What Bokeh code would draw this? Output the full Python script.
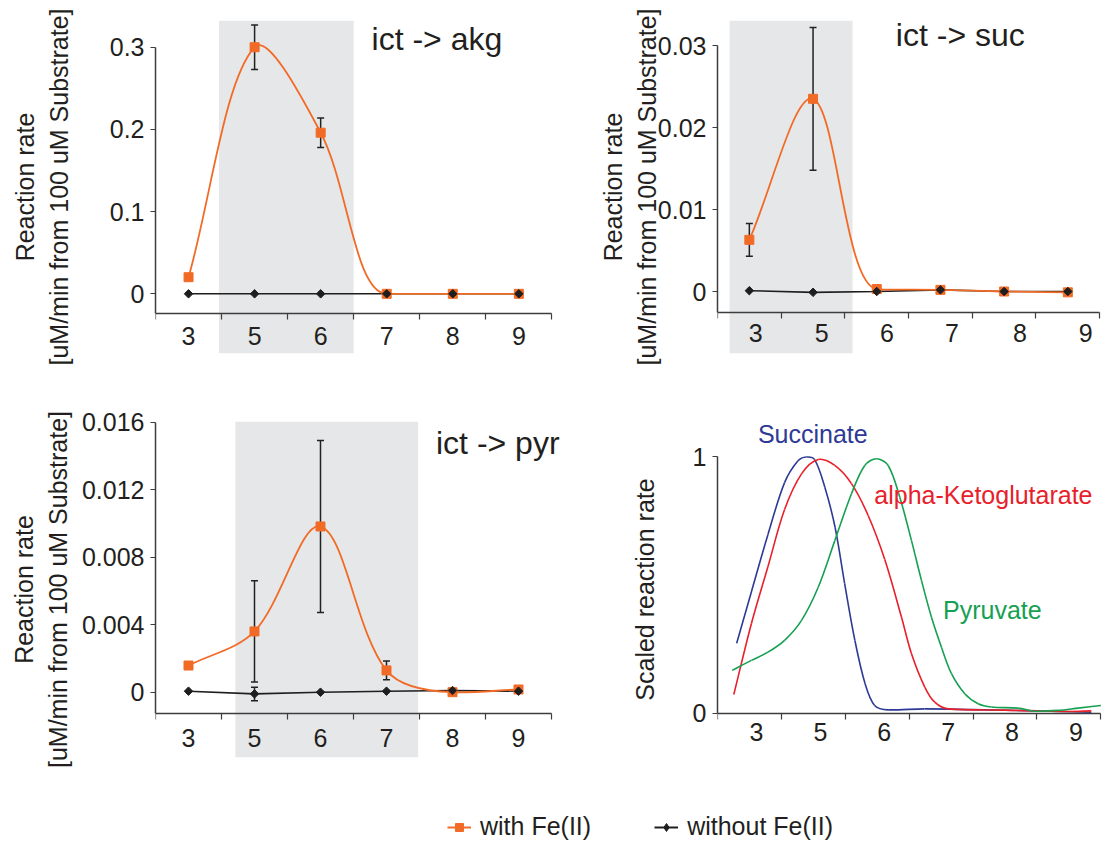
import math
from bokeh.plotting import figure
from bokeh.models import (ColumnDataSource, FixedTicker, BoxAnnotation, Whisker, TeeHead,
                          Legend, LegendItem, Range1d, Label)
from bokeh.layouts import column, row
from bokeh.embed import file_html
from bokeh.resources import INLINE

# ---------------- data ----------------
ph_labels = ["3", "5", "6", "7", "8", "9"]
ph_pos = [0, 1, 2, 3, 4, 5]

akg_with_fe = [0.0202, 0.300, 0.196, 0.0, 0.0, 0.0]
akg_with_fe_err = [0.0, 0.027, 0.018, 0.0, 0.0, 0.0]
akg_without_fe = [0.0, 0.0, 0.0, 0.0, 0.0, 0.0]
akg_shade = [0.46, 2.5]
akg_yticks = [0, 0.1, 0.2, 0.3]
akg_ylabels = ["0", "0.1", "0.2", "0.3"]

suc_with_fe = [0.0063, 0.0235, 0.0003, 0.0002, 0.0, -0.0001]
suc_with_fe_err = [0.002, 0.0087, 0.0, 0.0, 0.0, 0.0]
suc_without_fe = [0.0001, -0.0001, 0.0, 0.0002, 0.0, 0.0]
suc_shade = [-0.31, 1.62]
suc_yticks = [0, 0.01, 0.02, 0.03]
suc_ylabels = ["0", "0.01", "0.02", "0.03"]

pyr_with_fe = [0.00158, 0.0036, 0.00982, 0.00129, 0.0, 0.00016]
pyr_with_fe_err = [0.0002, 0.003, 0.0051, 0.00056, 0.0, 0.0]
pyr_without_fe = [0.00006, -0.0001, 0.0, 0.00006, 0.0001, 0.00006]
pyr_without_fe_err = [0.0, 0.0004, 0.0, 0.0, 0.0, 0.0]
pyr_shade = [0.71, 3.48]
pyr_yticks = [0, 0.004, 0.008, 0.012, 0.016]
pyr_ylabels = ["0", "0.004", "0.008", "0.012", "0.016"]

# scaled reaction-rate profiles (position along the pH axis, scaled rate)
succinate_x = [-0.20, 0.03, 0.29, 0.55, 0.76, 0.89, 1.02, 1.18, 1.34, 1.49, 1.65, 1.81, 1.96,
               2.17, 2.74, 3.5, 4.5, 5.35]
succinate_y = [0.274, 0.474, 0.698, 0.90, 0.985, 1.0, 0.99, 0.882, 0.726, 0.506, 0.285, 0.116,
               0.031, 0.014, 0.018, 0.015, 0.010, 0.005]
akg_scaled_x = [-0.245, 0.03, 0.29, 0.55, 0.815, 1.076, 1.336, 1.597, 1.858, 2.118, 2.38,
                2.536, 2.744, 2.9, 3.11, 4.0, 5.0, 5.35]
akg_scaled_y = [0.074, 0.35, 0.573, 0.795, 0.934, 0.99, 0.967, 0.896, 0.772, 0.60, 0.375,
                0.233, 0.103, 0.044, 0.018, 0.013, 0.008, 0.010]
pyruvate_x = [-0.27, 0.03, 0.29, 0.55, 0.815, 1.076, 1.336, 1.597, 1.805, 1.988, 2.171, 2.353,
              2.536, 2.692, 2.849, 3.005, 3.162, 3.37, 3.58, 3.788, 4.206, 4.466, 4.83, 5.145, 5.5]
pyruvate_y = [0.168, 0.207, 0.239, 0.285, 0.363, 0.492, 0.674, 0.857, 0.967, 0.993, 0.967, 0.843,
              0.674, 0.519, 0.375, 0.258, 0.155, 0.077, 0.038, 0.025, 0.021, 0.009, 0.012, 0.021,
              0.031]
scaled_yticks = [0, 1]
scaled_ylabels = ["0", "1"]

# ---------------- style ----------------
FONT = "Liberation Sans"
ORANGE = "#f26b26"
BLACK = "#1e1e1e"
AXIS = "#3d3d3d"
SHADE = "#e6e7e8"
TXT = "#231f20"
BLUE = "#2e3a94"
RED = "#e8202a"
GREEN = "#16a052"
FS = "25px"

akg_shift = [0, 0, 0, 0, 0, 0]
suc_shift = [0.10, 0.135, 0.16, 0.18, 0.25, 0.28]
pyr_shift = [0, 0, 0, 0, 0, 0]
scaled_shift = [0.11] * 6


def panel(width, height, borders, xr, yr):
    l, r, t, b = borders
    p = figure(width=width, height=height, x_range=Range1d(*xr), y_range=Range1d(*yr),
               min_border_left=l, min_border_right=r, min_border_top=t, min_border_bottom=b,
               output_backend="svg", toolbar_location=None)
    p.xgrid.visible = False
    p.ygrid.visible = False
    p.outline_line_color = None
    p.background_fill_color = "white"
    p.border_fill_color = "white"
    return p


def style_axes(p, yticks, ylabels, ytitle, y_title_standoff, x_at, shift, x_label_standoff):
    xa = p.xaxis[0]
    lab_pos = [c + s for c, s in zip(ph_pos, shift)]
    bounds = [c - 0.5 for c in ph_pos] + [ph_pos[-1] + 0.5]
    xa.ticker = FixedTicker(ticks=lab_pos, minor_ticks=bounds)
    xa.major_label_overrides = {v: t for v, t in zip(lab_pos, ph_labels)}
    xa.major_tick_out = 0
    xa.major_tick_in = 0
    xa.minor_tick_out = 6
    xa.minor_tick_in = 0
    xa.bounds = (bounds[0], bounds[-1])
    xa.fixed_location = x_at
    xa.major_label_standoff = x_label_standoff
    ya = p.yaxis[0]
    ya.ticker = FixedTicker(ticks=yticks)
    ya.major_label_overrides = {v: t for v, t in zip(yticks, ylabels)}
    ya.major_tick_out = 5
    ya.major_tick_in = 0
    ya.minor_tick_out = 0
    ya.minor_tick_in = 0
    ya.major_label_standoff = 6
    ya.bounds = (x_at, yticks[-1])
    ya.axis_label = ytitle
    ya.axis_label_standoff = y_title_standoff
    for a in (xa, ya):
        a.axis_line_color = AXIS
        a.axis_line_width = 1.5
        a.major_tick_line_color = AXIS
        a.minor_tick_line_color = AXIS
        a.major_tick_line_width = 1.2
        a.minor_tick_line_width = 1.2
        a.major_label_text_font = FONT
        a.major_label_text_font_size = FS
        a.major_label_text_color = TXT
        a.axis_label_text_font = FONT
        a.axis_label_text_font_size = FS
        a.axis_label_text_font_style = "normal"
        a.axis_label_text_color = TXT


def smooth_segments(xs, ys, sx, sy, t=1.0 / 6.0, allow=0.25):
    """Bezier segments (Excel-like smoothed line) computed from the data points,
    with overshoot next to flat stretches limited."""
    P = [(float(x), float(y)) for x, y in zip(xs, ys)]
    n = len(P)

    def d(a, b):
        return math.hypot((b[0] - a[0]) * sx, (b[1] - a[1]) * sy)

    cin, cout = [None] * n, [None] * n
    for i in range(n):
        prev = P[i - 1] if i > 0 else P[i]
        nxt = P[i + 1] if i < n - 1 else P[i]
        dp, dn = d(prev, P[i]), d(P[i], nxt)
        tot = dp + dn
        if tot == 0:
            cin[i] = cout[i] = P[i]
            continue
        tx, ty = nxt[0] - prev[0], nxt[1] - prev[1]
        fo, fi = t * 2 * dn / tot, t * 2 * dp / tot
        y = P[i][1]
        s = 1.0
        for other, dy in ((nxt, ty * fo), (prev, -ty * fi)):
            if other is P[i] or dy == 0:
                continue
            lim = allow * abs(other[1] - y)
            lo, hi = min(y, other[1]) - lim, max(y, other[1]) + lim
            yc = y + dy
            if yc > hi:
                s = min(s, (hi - y) / dy)
            elif yc < lo:
                s = min(s, (lo - y) / dy)
        s = max(s, 0.0)
        cout[i] = (P[i][0] + tx * fo, y + ty * fo * s)
        cin[i] = (P[i][0] - tx * fi, y - ty * fi * s)
    seg = dict(x0=[], y0=[], x1=[], y1=[], cx0=[], cy0=[], cx1=[], cy1=[])
    for i in range(n - 1):
        seg["x0"].append(P[i][0]); seg["y0"].append(P[i][1])
        seg["x1"].append(P[i + 1][0]); seg["y1"].append(P[i + 1][1])
        seg["cx0"].append(cout[i][0]); seg["cy0"].append(cout[i][1])
        seg["cx1"].append(cin[i + 1][0]); seg["cy1"].append(cin[i + 1][1])
    return seg


def scale_of(p):
    fw = p.width - p.min_border_left - p.min_border_right
    fh = p.height - p.min_border_top - p.min_border_bottom
    sx = fw / (p.x_range.end - p.x_range.start)
    sy = fh / (p.y_range.end - p.y_range.start)
    return sx, sy


def smooth_line(p, xs, ys, color, width):
    sx, sy = scale_of(p)
    seg = smooth_segments(xs, ys, sx, sy)
    p.bezier(source=ColumnDataSource(seg), x0="x0", y0="y0", x1="x1", y1="y1",
             cx0="cx0", cy0="cy0", cx1="cx1", cy1="cy1", line_color=color, line_width=width)


def errorbars(p, xs, ys, errs, color):
    bx = [x for x, e in zip(xs, errs) if e > 0]
    lo = [y - e for y, e in zip(ys, errs) if e > 0]
    hi = [y + e for y, e in zip(ys, errs) if e > 0]
    src = ColumnDataSource(dict(x=bx, lower=lo, upper=hi))
    w = Whisker(source=src, base="x", lower="lower", upper="upper", dimension="height",
                line_color=color, line_width=1.5,
                upper_head=TeeHead(size=7, line_color=color, line_width=1.5),
                lower_head=TeeHead(size=7, line_color=color, line_width=1.5))
    p.add_layout(w)


def rate_panel(p, shade, with_fe, with_err, without_fe, without_err, title, tx, ty):
    p.add_layout(BoxAnnotation(left=shade[0], right=shade[1], fill_color=SHADE, fill_alpha=1.0,
                               line_color=None, level="underlay"))
    p.line(ph_pos, without_fe, line_color=BLACK, line_width=1.6)
    smooth_line(p, ph_pos, with_fe, ORANGE, 1.8)
    p.scatter(ph_pos, with_fe, marker="square", size=9, fill_color=ORANGE, line_color=ORANGE)
    p.scatter(ph_pos, without_fe, marker="square", angle=math.pi / 4, size=6,
              fill_color=BLACK, line_color=BLACK)
    errorbars(p, ph_pos, with_fe, with_err, "#222222")
    if without_err is not None:
        errorbars(p, ph_pos, without_fe, without_err, "#222222")
    p.add_layout(Label(x=tx, y=ty, text=title, text_font=FONT, text_font_size="32px",
                       text_color=TXT, text_baseline="alphabetic"))


YT = "Reaction rate\n[uM/min from 100 uM Substrate]"

# top row: borders top 20 / bottom 37; bottom row: top 31 / bottom 23
# ---- panel 1: ict -> akg ----
p1 = panel(575, 390, (155, 17, 20, 37), (-0.5, 5.6), (-0.0726, 0.3325))
style_axes(p1, akg_yticks, akg_ylabels, YT, 34, -0.0243, akg_shift, 7)
rate_panel(p1, akg_shade, akg_with_fe, akg_with_fe_err, akg_without_fe, None,
           "ict -> akg", 2.77, 0.310)

# ---- panel 2: ict -> suc ----
p2 = panel(530, 390, (142, 2, 20, 37), (-0.5, 5.56), (-0.00756, 0.03305))
style_axes(p2, suc_yticks, suc_ylabels, YT, -6, -0.00252, suc_shift, 6)
rate_panel(p2, suc_shade, suc_with_fe, suc_with_fe_err, suc_without_fe, None,
           "ict -> suc", 2.30, 0.0313)

# ---- panel 3: ict -> pyr ----
p3 = panel(575, 390, (155, 5, 31, 23), (-0.5, 5.788), (-0.00387, 0.01604))
style_axes(p3, pyr_yticks, pyr_ylabels, YT, 7, -0.00128, pyr_shift, 9)
rate_panel(p3, pyr_shade, pyr_with_fe, pyr_with_fe_err, pyr_without_fe, pyr_without_fe_err,
           "ict -> pyr", 3.75, 0.01479)

# ---- panel 4: scaled ----
p4 = panel(530, 390, (142, 2, 31, 23), (-0.5, 5.541), (-0.1716, 1.1384))
style_axes(p4, scaled_yticks, scaled_ylabels, "Scaled reaction rate", 31, 0, scaled_shift, 4)
smooth_line(p4, succinate_x, succinate_y, BLUE, 1.6)
smooth_line(p4, akg_scaled_x, akg_scaled_y, RED, 1.6)
smooth_line(p4, pyruvate_x, pyruvate_y, GREEN, 1.6)
for txt, x, y, c in [("Succinate", 0.132, 1.088, BLUE),
                     ("alpha-Ketoglutarate", 1.954, 0.853, RED),
                     ("Pyruvate", 3.03, 0.404, GREEN)]:
    p4.add_layout(Label(x=x, y=y, text=txt, text_font=FONT, text_font_size=FS,
                        text_color=c, text_baseline="alphabetic"))

# ---- legend strip (renderers drawn outside its visible range) ----
pl = figure(width=1105, height=61, x_range=Range1d(100, 101), y_range=Range1d(100, 101),
            min_border=0, x_axis_location=None, y_axis_location=None,
            output_backend="svg", toolbar_location=None)
pl.outline_line_color = None
pl.xgrid.visible = False
pl.ygrid.visible = False
r1 = pl.line(ph_pos, akg_with_fe, line_color=ORANGE, line_width=2)
r2 = pl.scatter(ph_pos, akg_with_fe, marker="square", size=9, fill_color=ORANGE,
                line_color=ORANGE)
r3 = pl.line(ph_pos, akg_without_fe, line_color=BLACK, line_width=2)
r4 = pl.scatter(ph_pos, akg_without_fe, marker="diamond", size=10,
                fill_color=BLACK, line_color=BLACK)
leg = Legend(items=[LegendItem(label="with Fe(II)", renderers=[r1, r2]),
                    LegendItem(label="without Fe(II)", renderers=[r3, r4])],
             location=(447, 0), orientation="horizontal", spacing=63, padding=0, margin=0,
             glyph_width=24, glyph_height=20, label_standoff=9,
             label_text_font=FONT, label_text_font_size=FS, label_text_color=TXT,
             border_line_color=None, background_fill_alpha=0)
pl.add_layout(leg)

layout = column(row(p1, p2), row(p3, p4), pl)
open("out.html", "w").write(file_html(layout, INLINE))
